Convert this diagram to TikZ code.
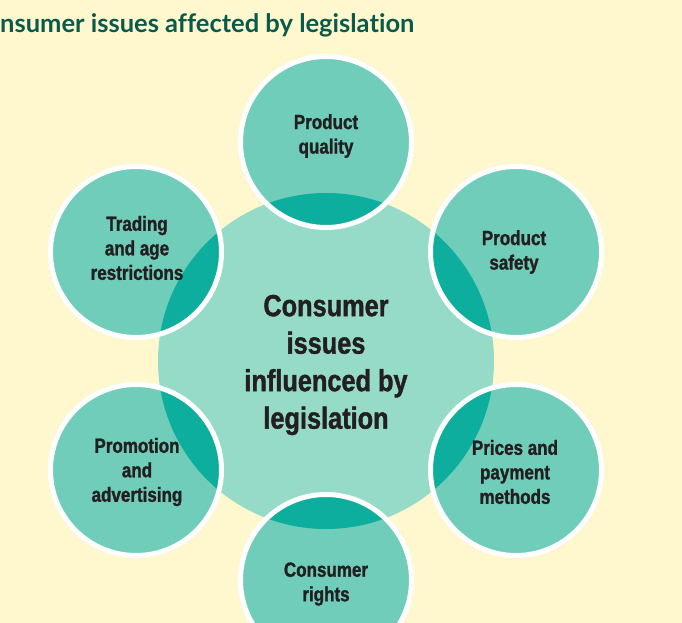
\documentclass[tikz,border=0pt]{standalone}
\usepackage{fontspec}
\newfontfamily\lblfont[FakeStretch=0.83,BoldFeatures={FakeBold=1.3}]{Liberation Sans}
\newfontfamily\titlefont[RawFeature={-liga;-dlig}]{Lato}
\definecolor{bgyellow}{HTML}{FFF8CE}
\definecolor{centerfill}{HTML}{95DBC8}
\definecolor{outerfill}{HTML}{6FCDB9}
\definecolor{lensfill}{HTML}{0EAE9E}
\definecolor{titlegreen}{HTML}{0A5A4B}
\definecolor{textdark}{HTML}{231F20}
\tikzset{
  outerlbl/.style={font=\lblfont\bfseries\fontsize{20.5}{24.5}\selectfont, text=textdark, align=center, inner sep=0pt},
  centerlbl/.style={font=\lblfont\bfseries\fontsize{30.5}{37.5}\selectfont, text=textdark, align=center, inner sep=0pt},
  ring/.style={draw=white, line width=5pt}
}
\begin{document}
\begin{tikzpicture}[x=1pt,y=-1pt]
\useasboundingbox (0,0) rectangle (682,623);
\fill[bgyellow] (0,0) rectangle (682,623);
\node[anchor=base west, inner sep=0pt, font=\titlefont\bfseries\fontsize{25.5}{30}\selectfont, text=titlegreen] (title) at (0,33) {nsumer issues affected by legislation};
% central circle
\coordinate (c) at (326,361);
\fill[centerfill] (c) circle[radius=168];
% outer circles
\foreach \n/\x/\y in {q/326/142, s/516/252, p/516/470, r/326/580, a/136/470, t/136/252}{
  \coordinate (o\n) at (\x,\y);
  \fill[outerfill] (o\n) circle[radius=85];
  \begin{scope}
    \clip (o\n) circle[radius=85];
    \fill[lensfill] (c) circle[radius=168];
  \end{scope}
  \draw[ring] (o\n) circle[radius=85.5];
}
\node[centerlbl] (ctext) at (326,365) {Consumer\\issues\\influenced by\\legislation};
\node[outerlbl] (lq) at (326,136) {Product\\quality};
\node[outerlbl] (ls) at (514,252) {Product\\safety};
\node[outerlbl] (lp) at (515,472) {Prices and\\payment\\methods};
\node[outerlbl] (lr) at (326,584) {Consumer\\rights};
\node[outerlbl] (la) at (137,472) {Promotion\\and\\advertising};
\node[outerlbl] (lt) at (137,248) {Trading\\and age\\restrictions};
\end{tikzpicture}
\end{document}
